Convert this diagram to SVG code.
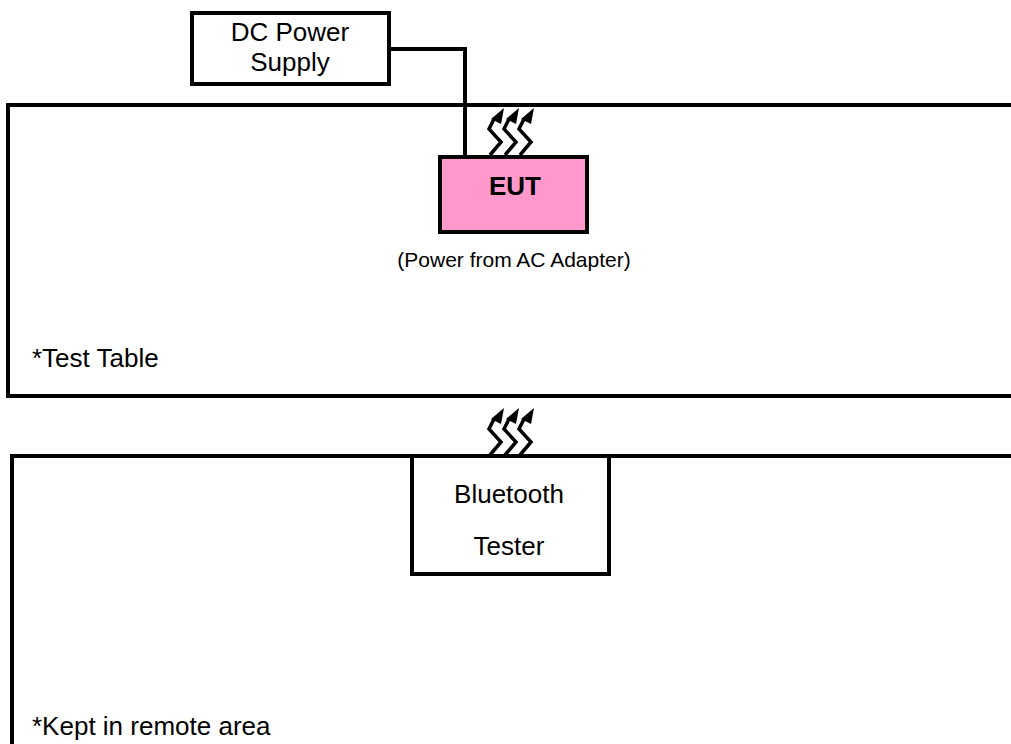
<svg xmlns="http://www.w3.org/2000/svg" width="1011" height="744" viewBox="0 0 1011 744">
<style>
text{font-family:"Liberation Sans",Arial,sans-serif;fill:#000}
.b{fill:#fff;stroke:#000;stroke-width:4}
.o{fill:none;stroke:#000;stroke-width:4}
.w{fill:none;stroke:#000;stroke-width:3.5}
.t{font-size:26px}
.c{font-size:26px;text-anchor:middle}
</style>
<defs>
<g id="wave">
<path class="w" d="M0 0L11 -13L-1 -26L4 -36"/>
<path d="M14 -47L1 -36L11 -31Z" fill="#000"/>
</g>
</defs>
<rect width="1011" height="744" fill="#fff"/>
<g id="test-table"><path class="o" d="M1011 105H8V396H1011"/><text class="t" x="32" y="367">*Test Table</text></g>
<g id="remote-area"><path class="o" d="M1011 456H12V744"/><text class="t" x="32" y="735">*Kept in remote area</text></g>
<g id="connectors">
<path class="o" d="M389 49H465V157"/>
<use href="#wave" x="490" y="155"/><use href="#wave" x="505" y="155"/><use href="#wave" x="520" y="155"/>
<use href="#wave" x="490" y="455"/><use href="#wave" x="505" y="455"/><use href="#wave" x="520" y="455"/>
</g>
<g id="dc-power-supply"><rect class="b" x="192" y="13" width="197" height="71"/><text class="c" x="290" y="41">DC Power</text><text class="c" x="290" y="71">Supply</text></g>
<g id="eut"><rect x="440" y="157" width="147" height="75" fill="#ff99cc" stroke="#000" stroke-width="4"/><text x="515" y="195" font-size="26" font-weight="700" text-anchor="middle">EUT</text></g>
<g id="eut-note"><text x="514" y="267" font-size="21" text-anchor="middle">(Power from AC Adapter)</text></g>
<g id="bluetooth-tester"><rect class="b" x="412" y="456" width="197" height="118"/><text class="c" x="509" y="503">Bluetooth</text><text class="c" x="509" y="555">Tester</text></g>
</svg>
